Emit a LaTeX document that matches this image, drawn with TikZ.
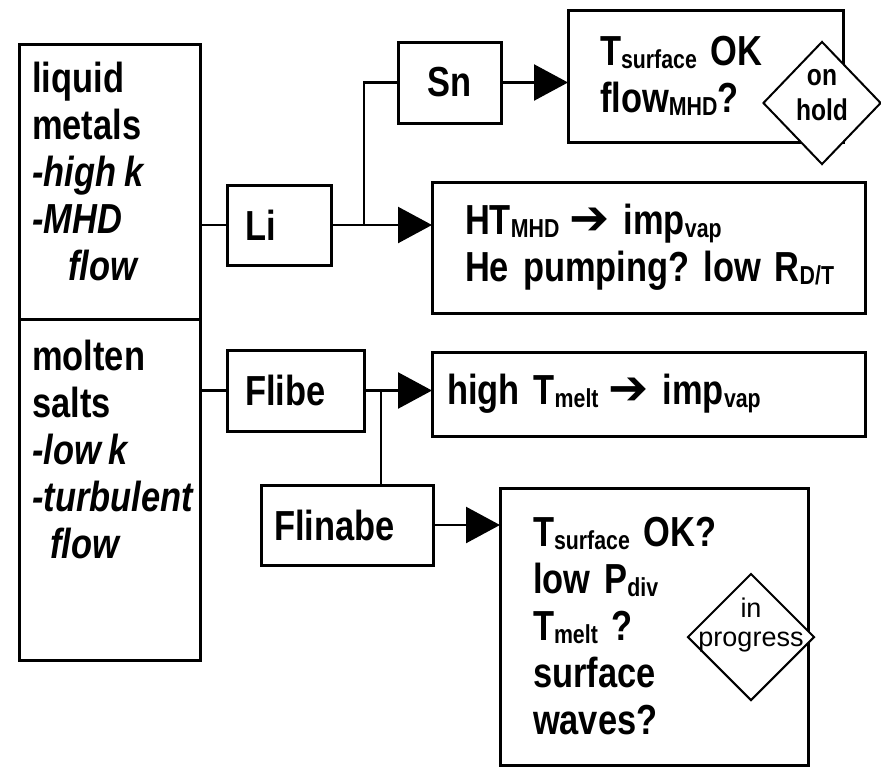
\documentclass[tikz,border=0pt]{standalone}
\usepackage{fontspec}
\setmainfont{Liberation Sans}[FakeStretch=0.82, WordSpace=0.82]
\newfontfamily\arrowfont{DejaVu Sans}
\newfontfamily\widefont{Liberation Sans}
\usetikzlibrary{shapes.geometric, arrows.meta, positioning}
\frenchspacing

\newcommand{\bigtext}{\fontsize{42}{47}\selectfont\bfseries}
\newcommand{\subtxt}[1]{\raisebox{-3pt}{\fontsize{26}{26}\selectfont #1}}
\newcommand{\thenarrow}{{\kern-4pt\arrowfont\bfseries\fontsize{48}{48}\selectfont ➔}}

\begin{document}
\begin{tikzpicture}[
  x=1pt, y=-1pt,
  frame/.style={draw, line width=3pt, anchor=north west, inner sep=0pt, outer sep=0pt},
  box/.style={frame, align=left, font=\bigtext},
  celltext/.style={inner sep=0pt, align=left, font=\bigtext},
  flag/.style={diamond, draw, fill=white, line width=2pt, inner sep=0pt},
  flagtext/.style={inner sep=0pt, align=center, font=\fontsize{30}{35}\selectfont\bfseries},
  flagtextwide/.style={inner sep=0pt, align=center, font=\widefont\fontsize{27}{29}\selectfont},
  link/.style={line width=2.4pt},
  feed/.style={link, -{Triangle[length=34pt, width=36pt]}}
]
\useasboundingbox (0,0) rectangle (881,769);

% coolant classes
\node[frame, minimum width=181pt, minimum height=275pt] (metals) at (19,44) {};
\node[frame, minimum width=181pt, minimum height=341pt] (salts) at (metals.south west) {};
\node[celltext, below right=18pt and 13pt of metals.north west] (metalstext)
  {liquid\\metals\\\textit{-high k}\\\textit{-MHD}\\\hspace*{36pt}\textit{flow}};
\node[celltext, below right=21pt and 13pt of salts.north west] (saltstext)
  {molten\\salts\\\textit{-low k}\\\textit{-turbulent}\\\hspace*{18pt}\textit{flow}};

% candidates
\node[box, minimum width=104pt, minimum height=80pt, text width=68pt, inner xsep=18pt] (li) at (227,185) {Li};
\node[box, minimum width=103pt, minimum height=81pt, align=center, inner xsep=4pt] (sn) at (398,42) {Sn};
\node[box, minimum width=137pt, minimum height=81pt, text width=101pt, inner xsep=18pt] (flibe) at (227,350) {Flibe};
\node[box, minimum width=172pt, minimum height=80pt, text width=146pt, inner xsep=13pt] (flinabe) at (261,485) {Flinabe};

% findings
\node[box, minimum width=275pt, minimum height=132pt, text width=211pt, inner xsep=32pt] (tsn) at (568,10)
  {T\subtxt{surface} OK\\flow\subtxt{MHD}?};
\node[box, minimum width=433pt, minimum height=131pt, text width=367pt, inner xsep=33pt] (ht) at (432,182)
  {\mbox{HT\subtxt{MHD} \thenarrow{} imp\subtxt{vap}}\\\mbox{He pumping? low R\subtxt{D/T}}};
\node[box, minimum width=433pt, minimum height=84pt, text width=403pt, inner xsep=15pt] (melt) at (432,352)
  {\mbox{high T\subtxt{melt} \thenarrow{} imp\subtxt{vap}}};
\node[box, minimum width=308pt, minimum height=277pt, text width=242pt, inner xsep=33pt] (fnb) at (500,488)
  {T\subtxt{surface} OK?\\low P\subtxt{div}\\T\subtxt{melt} ?\\surface\\waves?};

% status
\node[flag, minimum width=118pt, minimum height=123pt] (hold) at (822,103) {};
\node[flagtext, yshift=8pt] (holdtext) at (hold) {on\\hold};
\node[flag, minimum width=127pt, minimum height=127pt] (progress) at (751,637) {};
\node[flagtextwide, yshift=12pt] (progresstext) at (progress) {in\\progress};

% connectors
\coordinate (lisplit) at ([xshift=33pt]li.east);
\coordinate (fbsplit) at ([xshift=17pt]flibe.east);
\draw[link] (metals.east |- li.west) -- (li.west);
\draw[feed] (li.east) -- (li.east -| ht.west);
\draw[link] (lisplit) |- (sn.west);
\draw[feed] (sn.east) -- (sn.east -| tsn.west);
\draw[link] (salts.east |- flibe.west) -- (flibe.west);
\draw[feed] (flibe.east) -- (flibe.east -| melt.west);
\draw[link] (fbsplit) -- (fbsplit |- flinabe.north);
\draw[feed] (flinabe.east) -- (flinabe.east -| fnb.west);
\end{tikzpicture}
\end{document}
